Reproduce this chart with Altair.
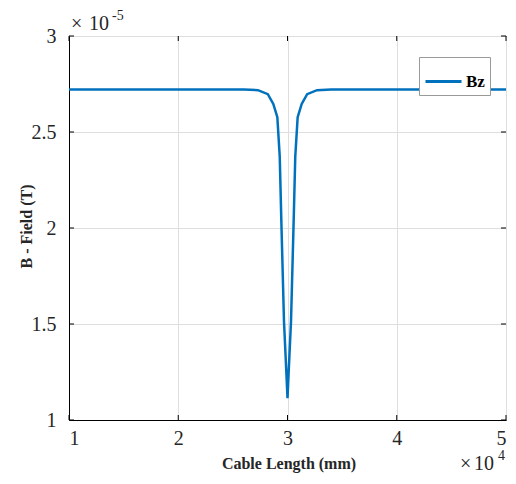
import altair as alt
import pandas as pd

# Data: cable length (mm) and Bz field (in units of 1e-5 T)
x_mm = [10000, 20000, 26000, 27300, 28200, 28700, 29070, 29290, 29440, 29680, 29890, 30000,
        30110, 30320, 30560, 30710, 30930, 31300, 31800, 32700, 34000, 40000, 50000]
bz = [2.722, 2.722, 2.721, 2.718, 2.697, 2.646, 2.577, 2.371, 2.027, 1.512, 1.254, 1.113,
      1.254, 1.512, 2.027, 2.371, 2.577, 2.646, 2.697, 2.718, 2.721, 2.722, 2.722]
series = ["Bz"] * len(x_mm)

x_ticks = [10000, 20000, 30000, 40000, 50000]
y_ticks = [1, 1.5, 2, 2.5, 3]

W, H = 437, 384
FONT = "Liberation Serif"
TXT = "#262626"

df = pd.DataFrame({"x": x_mm, "y": bz, "s": series})
xt = pd.DataFrame({"x": x_ticks})
yt = pd.DataFrame({"y": y_ticks})

xscale = alt.Scale(domain=[10000, 50000], nice=False, zero=False)
yscale = alt.Scale(domain=[1, 3], nice=False, zero=False)

line = alt.Chart(df).mark_line(strokeWidth=2.5, clip=True).encode(
    x=alt.X("x:Q", scale=xscale,
            axis=alt.Axis(values=x_ticks, labelExpr="datum.value/10000",
                          labelFont=FONT, labelFontSize=20, labelPadding=8,
                          title="Cable Length (mm)", titleFont=FONT, titleFontSize=16,
                          titleFontWeight="bold", titleX=W / 2 + 1, titleY=35,
                          titleBaseline="top")),
    y=alt.Y("y:Q", scale=yscale,
            axis=alt.Axis(values=y_ticks, format="~g",
                          labelFont=FONT, labelFontSize=20, labelPadding=13,
                          title="B - Field (T)", titleFont=FONT, titleFontSize=16,
                          titleFontWeight="bold", titleX=-35, titleY=H / 2 - 2)),
    color=alt.Color("s:N", scale=alt.Scale(domain=["Bz"], range=["#0072BD"]),
                    legend=alt.Legend(title=None, orient="none", legendX=350, legendY=21,
                                      symbolType="stroke", symbolSize=1296,
                                      symbolStrokeWidth=3, labelFont=FONT,
                                      labelFontSize=17, labelFontWeight="bold",
                                      labelColor="black", labelOffset=3,
                                      strokeColor="#999999", fillColor="white",
                                      padding=5)),
)

tick_bottom = alt.Chart(xt).mark_rule(color="black").encode(
    x=alt.X("x:Q", scale=xscale), y=alt.value(H), y2=alt.value(H - 5))
tick_top = alt.Chart(xt).mark_rule(color="black").encode(
    x=alt.X("x:Q", scale=xscale), y=alt.value(0), y2=alt.value(5))
tick_left = alt.Chart(yt).mark_rule(color="black").encode(
    y=alt.Y("y:Q", scale=yscale), x=alt.value(0), x2=alt.value(5))
tick_right = alt.Chart(yt).mark_rule(color="black").encode(
    y=alt.Y("y:Q", scale=yscale), x=alt.value(W - 5), x2=alt.value(W))


def txt(s, x, y, size):
    return alt.Chart(pd.DataFrame({"t": [s]})).mark_text(
        font=FONT, fontSize=size, align="left", baseline="alphabetic", color=TXT
    ).encode(x=alt.value(x), y=alt.value(y), text="t:N")


annots = [
    txt("×", 2, -6, 20), txt("10", 20, -6, 20), txt("-5", 43, -16, 14),
    txt("×", W - 46, H + 50, 20), txt("10", W - 32, H + 50, 20), txt("4", W - 8, H + 40, 14),
]

chart = alt.layer(
    line, tick_bottom, tick_top, tick_left, tick_right, *annots,
).properties(
    width=W, height=H, autosize="none",
    padding={"left": 61, "top": 28, "right": 2, "bottom": 56},
).configure_view(
    stroke="black", strokeWidth=1
).configure_axis(
    domainColor="black", domainWidth=1, tickSize=0,
    labelColor=TXT, titleColor=TXT,
    gridColor="#dedede", gridWidth=1,
)

chart.save("out.html", embed_options={"renderer": "svg", "actions": False})
